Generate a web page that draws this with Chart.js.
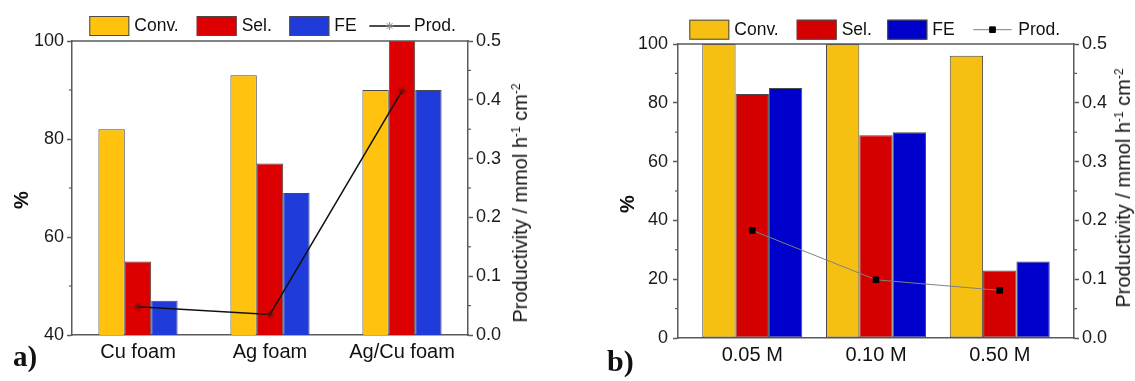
<!DOCTYPE html>
<html>
<head>
<meta charset="utf-8">
<script src="https://cdn.jsdelivr.net/npm/chart.js@4.4.1/dist/chart.umd.min.js"></script>
<style>
  html, body { margin: 0; padding: 0; background: #fff; }
  body { width: 1135px; height: 381px; position: relative; overflow: hidden; font-family: "Liberation Sans", Arial, sans-serif; }
  .panel { position: absolute; top: 0; }
  .ttl { position: absolute; white-space: nowrap; color: #111; line-height: 1; transform: translate(-50%, -50%) rotate(-90deg); }
  .ttl sup { font-size: 0.6em; vertical-align: 0; position: relative; top: -0.55em; }
  .pl { position: absolute; font-family: "Liberation Serif", "Times New Roman", serif; font-weight: bold; line-height: 1; color: #111; }
</style>
</head>
<body>
<div class="panel" style="left:0;width:570px;height:381px"><canvas id="cA" width="570" height="381"></canvas></div>
<div class="panel" style="left:570px;width:565px;height:381px"><canvas id="cB" width="565" height="381"></canvas></div>

<div class="ttl" style="left:21px;top:200px;font-size:20px;font-weight:bold">%</div>
<div class="ttl" style="left:520px;top:203px;font-size:20px">Productivity / mmol h<sup>-1</sup> cm<sup>-2</sup></div>
<div class="ttl" style="left:627px;top:204px;font-size:20px;font-weight:bold">%</div>
<div class="ttl" style="left:1123px;top:188px;font-size:20px">Productivity / mmol h<sup>-1</sup> cm<sup>-2</sup></div>
<div class="pl" style="left:13px;top:342px;font-size:29px">a)</div>
<div class="pl" style="left:607px;top:346px;font-size:30px">b)</div>

<script>
// ---------------- data ----------------
const seriesNames = ['Conv.', 'Sel.', 'FE', 'Prod.'];

const catsA = ['Cu foam', 'Ag foam', 'Ag/Cu foam'];
const convA = [82, 93, 90];
const selA  = [55, 75, 100];
const feA   = [47, 69, 90];
const prodA = [0.048, 0.035, 0.415];

const catsB = ['0.05 M', '0.10 M', '0.50 M'];
const convB = [100, 100, 96];
const selB  = [83, 69, 23];
const feB   = [85, 70, 26];
const prodB = [0.183, 0.099, 0.081];

const pctTicksA = [40, 60, 80, 100];
const pctMinorA = [50, 70, 90];
const pctTicksB = [0, 20, 40, 60, 80, 100];
const pctMinorB = [10, 30, 50, 70, 90];
const prodTicks = [0.0, 0.1, 0.2, 0.3, 0.4, 0.5];
const prodMinor = [0.05, 0.15, 0.25, 0.35, 0.45];
// --------------------------------------

Chart.defaults.font.family = '"Liberation Sans", Arial, sans-serif';
Chart.defaults.color = '#1a1a1a';

const AXIS = '#5a5a5a';

const framePlugin = {
  id: 'frame',
  afterDraw(chart, args, opts) {
    const ctx = chart.ctx, a = chart.chartArea;
    ctx.save();
    ctx.strokeStyle = AXIS;
    ctx.lineWidth = 1.5;
    ctx.beginPath();
    ctx.moveTo(a.left - 0.75, a.top);
    ctx.lineTo(a.right + 0.75, a.top);
    ctx.stroke();
    const mt = opts.minor || {};
    Object.keys(mt).forEach(id => {
      const s = chart.scales[id];
      mt[id].forEach(v => {
        const y = s.getPixelForValue(v);
        ctx.beginPath();
        if (s.position === 'left') { ctx.moveTo(s.right, y); ctx.lineTo(s.right - 3, y); }
        else { ctx.moveTo(s.left, y); ctx.lineTo(s.left + 3, y); }
        ctx.lineWidth = 1.2;
        ctx.stroke();
      });
    });
    ctx.restore();
  }
};

const legendPlugin = {
  id: 'customLegend',
  afterDraw(chart, args, o) {
    const ctx = chart.ctx;
    const ds = chart.data.datasets;
    ctx.save();
    ctx.font = '17.5px "Liberation Sans", Arial, sans-serif';
    ctx.textBaseline = 'middle';
    const cy = o.cy;
    for (let i = 0; i < 3; i++) {
      const d = ds[i + 1];
      const x = o.boxes[i];
      ctx.fillStyle = d.backgroundColor;
      ctx.fillRect(x, cy - 10, 40, 20);
      ctx.strokeStyle = d.borderColor;
      ctx.lineWidth = 1;
      ctx.strokeRect(x + 0.5, cy - 9.5, 39, 19);
      ctx.fillStyle = '#111';
      ctx.fillText(d.label, x + 45, cy);
    }
    const L = ds[0];
    ctx.strokeStyle = L.borderColor;
    ctx.lineWidth = L.borderWidth;
    ctx.beginPath();
    ctx.moveTo(o.line[0], cy);
    ctx.lineTo(o.line[1], cy);
    ctx.stroke();
    const mx = (o.line[0] + o.line[1]) / 2;
    ctx.fillStyle = L.pointBackgroundColor;
    ctx.strokeStyle = o.legendMarkerColor || L.pointBorderColor;
    ctx.lineWidth = L.pointBorderWidth;
    Chart.helpers.drawPoint(ctx, { pointStyle: L.pointStyle, radius: L.pointRadius, borderWidth: L.pointBorderWidth, rotation: 0 }, mx, cy);
    ctx.fillStyle = '#111';
    ctx.fillText(L.label, o.line[1] + o.textGap, cy);
    ctx.restore();
  }
};

function makeChart(id, c) {
  const pts = arr => arr.map((v, i) => ({ x: i, y: v }));
  const barDs = (label, data, color) => ({
    type: 'bar', label, data: pts(data), yAxisID: 'y', order: 1,
    backgroundColor: color, borderColor: '#4a4a4a', borderWidth: 1, borderSkipped: false,
    categoryPercentage: c.catPct, barPercentage: 1
  });
  return new Chart(document.getElementById(id), {
    type: 'bar',
    data: {
      datasets: [
        Object.assign({
          type: 'line', label: seriesNames[3], data: pts(c.prod), yAxisID: 'y1', order: 0,
          fill: false, tension: 0
        }, c.lineStyle),
        barDs(seriesNames[0], c.conv, c.colors[0]),
        barDs(seriesNames[1], c.sel, c.colors[1]),
        barDs(seriesNames[2], c.fe, c.colors[2])
      ]
    },
    plugins: [framePlugin, legendPlugin],
    options: {
      responsive: false,
      animation: false,
      devicePixelRatio: 1,
      layout: { padding: { top: c.top, left: 0, right: 0, bottom: 0 } },
      plugins: {
        legend: { display: false },
        tooltip: { enabled: false },
        frame: { minor: { y: c.pctMinor, y1: prodMinor } },
        customLegend: c.legend
      },
      scales: {
        x: {
          type: 'linear', position: 'bottom', min: c.xmin, max: c.xmax, offset: false,
          afterBuildTicks: s => { s.ticks = c.cats.map((_, i) => ({ value: i })); },
          afterFit: s => { s.height = c.xh; },
          grid: { display: false, drawTicks: false, offset: false },
          border: { display: true, color: AXIS, width: 1.5 },
          ticks: { autoSkip: false, maxRotation: 0, padding: 5, color: '#111',
                   font: { size: 20 }, callback: v => c.cats[v] }
        },
        y: {
          type: 'linear', position: 'left', min: c.pctTicks[0], max: c.pctTicks[c.pctTicks.length - 1],
          afterBuildTicks: s => { s.ticks = c.pctTicks.map(v => ({ value: v })); },
          afterFit: s => { s.width = c.yl; },
          grid: { drawOnChartArea: false, drawTicks: true, tickLength: 5, tickColor: AXIS, tickWidth: 1.5 },
          border: { display: true, color: AXIS, width: 1.5 },
          ticks: { padding: c.ylPad, color: '#1a1a1a', font: { size: 18 } }
        },
        y1: {
          type: 'linear', position: 'right', min: 0, max: 0.5,
          afterBuildTicks: s => { s.ticks = prodTicks.map(v => ({ value: v })); },
          afterFit: s => { s.width = c.yr; },
          grid: { drawOnChartArea: false, drawTicks: true, tickLength: 5, tickColor: AXIS, tickWidth: 1.5 },
          border: { display: true, color: AXIS, width: 1.5 },
          ticks: { padding: 3, color: '#1a1a1a', font: { size: 18 }, callback: v => Number(v).toFixed(1) }
        }
      }
    }
  });
}

makeChart('cA', {
  cats: catsA, conv: convA, sel: selA, fe: feA, prod: prodA,
  colors: ['#FFC20E', '#DD0000', '#1F3CDB'],
  pctTicks: pctTicksA, pctMinor: pctMinorA,
  catPct: 0.6, xmin: -0.5, xmax: 2.5,
  top: 41, xh: 46, yl: 72, yr: 102, ylPad: 3,
  lineStyle: { borderColor: '#111', borderWidth: 1.5, pointStyle: 'star', pointRadius: 4,
               pointBorderColor: '#6a0a0a', pointBackgroundColor: '#6a0a0a', pointBorderWidth: 1 },
  legend: { cy: 26, boxes: [89.3, 196.7, 289.3], line: [369.3, 410], textGap: 4, legendMarkerColor: '#888' }
});

makeChart('cB', {
  cats: catsB, conv: convB, sel: selB, fe: feB, prod: prodB,
  colors: ['#F5C012', '#D40000', '#0000CC'],
  pctTicks: pctTicksB, pctMinor: pctMinorB,
  catPct: 0.808, xmin: -0.6, xmax: 2.6,
  top: 44, xh: 43, yl: 108, yr: 61, ylPad: 5,
  lineStyle: { borderColor: '#808080', borderWidth: 1, pointStyle: 'rect', pointRadius: 4,
               pointBorderColor: '#000', pointBackgroundColor: '#000', pointBorderWidth: 1 },
  legend: { cy: 29.7, boxes: [119.3, 226.7, 317.3], line: [403.3, 441.7], textGap: 6.6 }
});
</script>
</body>
</html>
